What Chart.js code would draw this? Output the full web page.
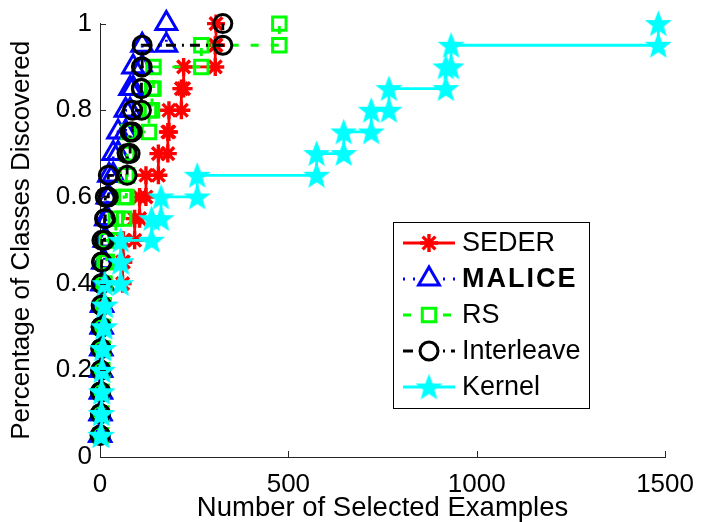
<!DOCTYPE html>
<html>
<head>
<meta charset="utf-8">
<script src="https://cdn.jsdelivr.net/npm/chart.js@4.4.0/dist/chart.umd.min.js"></script>
<style>
  html, body { margin: 0; padding: 0; background: #fff; }
  #c { display: block; }
</style>
</head>
<body>
<canvas id="c" width="706" height="522"></canvas>
<script>
// Fraction of the 20 classes discovered, one level per newly found class.
const classLevels = [0.05, 0.10, 0.15, 0.20, 0.25, 0.30, 0.35, 0.40, 0.45, 0.50,
                     0.55, 0.60, 0.65, 0.70, 0.75, 0.80, 0.85, 0.90, 0.95, 1.00];

// Number of selected examples at which each successive class was first found.
const sederX      = [1, 2, 3, 4, 5, 6, 8, 10, 60, 62, 92, 105, 122, 155, 180, 183, 216, 222, 306, 308];
const maliceX     = [0, 1, 2, 3, 3, 4, 5, 6, 8, 12, 16, 20, 24, 35, 48, 68, 80, 88, 112, 176];
const rsX         = [2, 3, 4, 5, 6, 7, 8, 10, 12, 18, 42, 64, 70, 72, 76, 130, 138, 142, 269, 476];
const interleaveX = [0, 1, 1, 2, 2, 3, 3, 4, 4, 5, 12, 14, 22, 72, 80, 86, 110, 110, 112, 326];
const kernelX     = [2, 3, 4, 5, 6, 9, 12, 13, 55, 55, 137, 162, 258, 575, 647, 720, 767, 918, 932, 1482];

const seriesNames = ['SEDER', 'MALICE', 'RS', 'Interleave', 'Kernel'];

const xTickValues = [0, 500, 1000, 1500];
const xTickLabels = ['0', '500', '1000', '1500'];
const yTickValues = [0, 0.2, 0.4, 0.6, 0.8, 1];
const yTickLabels = ['0', '0.2', '0.4', '0.6', '0.8', '1'];

const FONT = "'Liberation Sans', Arial, Helvetica, sans-serif";

// Staircase: each discovery adds a corner at the old level and one at the new level.
function stairs(xs) {
  const pts = [{ x: xs[0], y: classLevels[0] }];
  for (let k = 1; k < xs.length; k++) {
    pts.push({ x: xs[k], y: classLevels[k - 1] });
    pts.push({ x: xs[k], y: classLevels[k] });
  }
  return pts;
}

// Filled five-pointed star marker (pentagram).
function makeStar(color, R) {
  const c = document.createElement('canvas');
  const s = Math.ceil(R * 2 + 4);
  c.width = s; c.height = s;
  const g = c.getContext('2d');
  g.translate(s / 2, s / 2 + 1);
  g.beginPath();
  for (let i = 0; i < 10; i++) {
    const r = i % 2 ? R * 0.42 : R;
    const a = -Math.PI / 2 + i * Math.PI / 5;
    g.lineTo(r * Math.cos(a), r * Math.sin(a));
  }
  g.closePath();
  g.fillStyle = color;
  g.fill();
  g.strokeStyle = color;
  g.lineWidth = 1.2;
  g.stroke();
  return c;
}
const starImg = makeStar('#00ffff', 12.5);

const styles = [
  { color: '#ff0000', dash: [],            point: 'star',     radius: 9,   pw: 3.4 },
  { color: '#0000ff', dash: [2, 8],        point: 'triangle', radius: 12,  pw: 3 },
  { color: '#00ff00', dash: [8, 12],       point: 'rect',     radius: 9.5, pw: 3 },
  { color: '#000000', dash: [10, 6, 2, 6], point: 'circle',   radius: 9,   pw: 3 },
  { color: '#00ffff', dash: [],            point: starImg,    radius: 12,  pw: 1 }
];

const seriesX = [sederX, maliceX, rsX, interleaveX, kernelX];

const datasets = seriesNames.map((name, i) => ({
  label: name,
  data: stairs(seriesX[i]),
  borderColor: styles[i].color,
  backgroundColor: 'rgba(0,0,0,0)',
  borderWidth: 2.8,
  borderDash: styles[i].dash,
  pointStyle: styles[i].point,
  pointRadius: styles[i].radius,
  pointBorderWidth: styles[i].pw,
  pointBorderColor: styles[i].color,
  pointBackgroundColor: 'rgba(0,0,0,0)',
  pointHoverRadius: styles[i].radius,
  tension: 0,
  fill: false,
  clip: false,
  order: seriesNames.length - i
}));

// Inward tick marks on both axes plus the boxed legend inside the plot.
const axesAndLegend = {
  id: 'axesAndLegend',
  afterDraw(chart) {
    const ctx = chart.ctx;
    const xs = chart.scales.x, ys = chart.scales.y;
    const area = chart.chartArea;
    ctx.save();
    ctx.strokeStyle = '#262626';
    ctx.lineWidth = 1;
    ctx.setLineDash([]);
    xTickValues.forEach(v => {
      const px = Math.round(xs.getPixelForValue(v)) + 0.5;
      ctx.beginPath();
      ctx.moveTo(px, area.bottom);
      ctx.lineTo(px, area.bottom - 6);
      ctx.stroke();
    });
    yTickValues.forEach(v => {
      const py = Math.round(ys.getPixelForValue(v)) + 0.5;
      ctx.beginPath();
      ctx.moveTo(area.left, py);
      ctx.lineTo(area.left + 6, py);
      ctx.stroke();
    });

    // Legend box
    const bx = 393.5, by = 222.5, bw = 196, bh = 186;
    ctx.fillStyle = '#ffffff';
    ctx.fillRect(bx, by, bw, bh);
    ctx.strokeStyle = '#000000';
    ctx.lineWidth = 1;
    ctx.strokeRect(bx, by, bw, bh);

    const helpers = Chart.helpers;
    seriesNames.forEach((name, i) => {
      const st = styles[i];
      const y = 243 + i * 36;
      ctx.save();
      ctx.strokeStyle = st.color;
      ctx.lineWidth = 2.8;
      ctx.setLineDash(st.dash);
      ctx.beginPath();
      ctx.moveTo(403, y);
      ctx.lineTo(455, y);
      ctx.stroke();
      ctx.setLineDash([]);
      if (typeof st.point === 'object') {
        ctx.drawImage(st.point, 429 - st.point.width / 2, y - st.point.height / 2);
      } else {
        ctx.fillStyle = '#ffffff';
        ctx.strokeStyle = st.color;
        ctx.lineWidth = st.pw;
        helpers.drawPoint(ctx, { pointStyle: st.point, radius: st.radius, borderWidth: st.pw, rotation: 0 }, 429, y);
      }
      ctx.restore();
      ctx.fillStyle = '#000000';
      ctx.textBaseline = 'middle';
      ctx.textAlign = 'left';
      if (name === 'MALICE') {
        ctx.font = 'bold 27px ' + FONT;
        try { ctx.letterSpacing = '2px'; } catch (e) {}
      } else {
        ctx.font = '27px ' + FONT;
        try { ctx.letterSpacing = '0px'; } catch (e) {}
      }
      ctx.fillText(name, 462, y + 1);
      try { ctx.letterSpacing = '0px'; } catch (e) {}
    });
    ctx.restore();
  }
};

new Chart(document.getElementById('c'), {
  type: 'line',
  data: { datasets },
  options: {
    responsive: false,
    animation: false,
    devicePixelRatio: 1,
    events: [],
    layout: { padding: { top: 17, right: 38, left: 0, bottom: 0 } },
    plugins: {
      legend: { display: false },
      tooltip: { enabled: false }
    },
    scales: {
      x: {
        type: 'linear',
        position: 'bottom',
        min: 0,
        max: 1500,
        afterBuildTicks: s => { s.ticks = xTickValues.map(v => ({ value: v })); },
        ticks: {
          callback: (v, i) => xTickLabels[i],
          font: { size: 26, family: FONT },
          color: '#000',
          padding: 12,
          maxRotation: 0,
          autoSkip: false
        },
        grid: { display: false, drawTicks: false },
        border: { display: true, color: '#262626', width: 1 },
        title: {
          display: true,
          text: 'Number of Selected Examples',
          font: { size: 27.5, family: FONT, lineHeight: 1 },
          color: '#000',
          padding: { top: 0, bottom: 0 }
        },
        afterFit: s => { s.height = 65; }
      },
      y: {
        type: 'linear',
        position: 'left',
        min: 0,
        max: 1,
        afterBuildTicks: s => { s.ticks = yTickValues.map(v => ({ value: v })); },
        ticks: {
          callback: (v, i) => yTickLabels[i],
          font: { size: 26, family: FONT },
          color: '#000',
          padding: 8,
          autoSkip: false
        },
        grid: { display: false, drawTicks: false },
        border: { display: true, color: '#262626', width: 1 },
        title: {
          display: true,
          text: 'Percentage of Classes Discovered',
          font: { size: 26, family: FONT },
          color: '#000',
          padding: { top: 6, bottom: 0 }
        },
        afterFit: s => { s.width = 100; }
      }
    }
  },
  plugins: [axesAndLegend]
});
</script>
</body>
</html>
